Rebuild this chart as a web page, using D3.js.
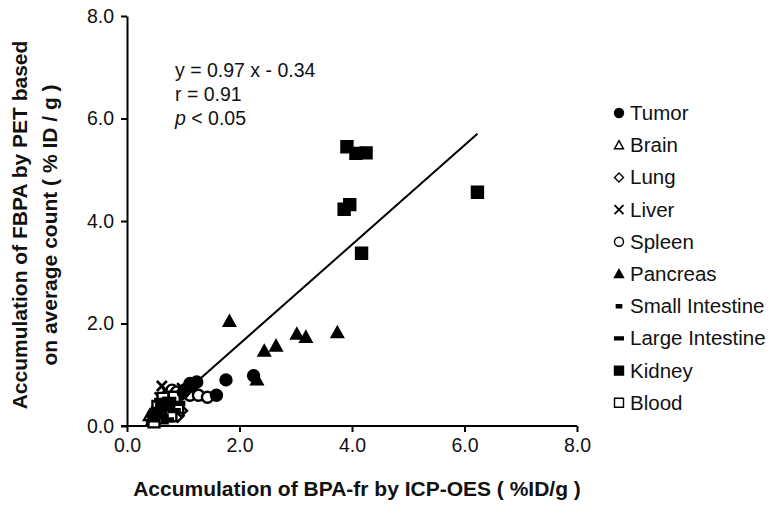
<!DOCTYPE html>
<html>
<head>
<meta charset="utf-8">
<script src="https://d3js.org/d3.v7.min.js"></script>
<style>
  body { margin: 0; background: #fff; }
  svg { font-family: "Liberation Sans", Arial, sans-serif; }
</style>
</head>
<body>
<svg id="chart" width="774" height="506"></svg>
<script>
// Données : [BPA-fr ICP-OES, FBPA PET]
const tumor = [[1.05, 0.72], [1.12, 0.83], [1.15, 0.78], [1.24, 0.86], [1.59, 0.60], [1.76, 0.90], [2.25, 0.98], [1.0, 0.66]];
const brain = [[0.40, 0.20], [0.46, 0.28], [0.52, 0.16], [0.58, 0.24], [0.44, 0.10], [0.50, 0.34], [0.62, 0.14]];
const lung = [[0.66, 0.42], [0.74, 0.32], [0.82, 0.28], [0.90, 0.20], [0.70, 0.52], [0.86, 0.40], [0.96, 0.30]];
const liver = [[0.62, 0.78], [0.98, 0.74], [0.80, 0.58], [0.72, 0.64], [0.88, 0.50], [0.68, 0.70], [0.58, 0.56]];
const spleen = [[0.80, 0.70], [0.95, 0.62], [1.12, 0.60], [1.27, 0.60], [1.43, 0.56], [0.88, 0.66]];
const pancreas = [[1.82, 2.04], [2.31, 0.90], [2.44, 1.46], [2.65, 1.56], [3.02, 1.79], [3.18, 1.73], [3.74, 1.82], [0.46, 0.18], [0.54, 0.26]];
const smallInt = [[0.50, 0.32], [0.58, 0.40], [0.64, 0.30], [0.70, 0.46], [0.78, 0.38], [0.56, 0.24], [0.66, 0.18]];
const largeInt = [[0.60, 0.50], [0.68, 0.36], [0.76, 0.52], [0.84, 0.30], [0.92, 0.44], [0.62, 0.20], [0.72, 0.12]];
const kidney = [[3.91, 5.45], [4.07, 5.32], [4.25, 5.33], [3.86, 4.23], [3.96, 4.32], [4.17, 3.37], [6.23, 4.56]];
const blood = [[0.55, 0.38], [0.64, 0.54], [0.74, 0.44], [0.90, 0.36], [0.84, 0.56], [0.70, 0.26], [0.78, 0.20], [0.48, 0.08]];

const legendNames = ["Tumor", "Brain", "Lung", "Liver", "Spleen", "Pancreas", "Small Intestine", "Large Intestine", "Kidney", "Blood"];
const xTicks = [0, 2, 4, 6, 8];
const yTicks = [0, 2, 4, 6, 8];
const slope = 0.97, intercept = -0.34;
const fitRange = [0.45, 6.23];

// Formes des marqueurs
function shape(kind, s) {
  const h = s / 2;
  switch (kind) {
    case "circle": return d3.symbol(d3.symbolCircle, Math.PI * h * h)();
    case "triangle": return `M0,${-h}L${h},${h * 0.8}L${-h},${h * 0.8}Z`;
    case "diamond": return `M0,${-h}L${h},0L0,${h}L${-h},0Z`;
    case "square": return `M${-h},${-h}H${h}V${h}H${-h}Z`;
    case "cross": return `M${-h},${-h}L${h},${h}M${h},${-h}L${-h},${h}`;
    case "dashS": return `M${-h * 0.55},${-1.6}H${h * 0.55}V1.6H${-h * 0.55}Z`;
    case "dashL": return `M${-h * 0.9},${-1.4}H${h * 0.9}V1.4H${-h * 0.9}Z`;
  }
}

const series = [
  { data: tumor, kind: "circle", fill: "#000", size: 11 },
  { data: brain, kind: "triangle", fill: "#fff", size: 11 },
  { data: lung, kind: "diamond", fill: "#fff", size: 12 },
  { data: liver, kind: "cross", fill: "none", size: 10 },
  { data: spleen, kind: "circle", fill: "#fff", size: 11 },
  { data: pancreas, kind: "triangle", fill: "#000", size: 11 },
  { data: smallInt, kind: "dashS", fill: "#000", size: 12 },
  { data: largeInt, kind: "dashL", fill: "#000", size: 12 },
  { data: kidney, kind: "square", fill: "#000", size: 11 },
  { data: blood, kind: "square", fill: "#fff", size: 11 }
];

const svg = d3.select("#chart");
const x = d3.scaleLinear().domain([0, 8]).range([127, 577]);
const y = d3.scaleLinear().domain([0, 8]).range([426, 16]);

// Axes
const xAxis = svg.append("g").attr("transform", `translate(0,${y(0)})`)
  .call(d3.axisBottom(x).tickValues(xTicks).tickFormat(d3.format(".1f")).tickSize(6).tickSizeOuter(0).tickPadding(6));
const yAxis = svg.append("g").attr("transform", `translate(${x(0)},0)`)
  .call(d3.axisLeft(y).tickValues(yTicks).tickFormat(d3.format(".1f")).tickSize(6).tickSizeOuter(0).tickPadding(7));
[xAxis, yAxis].forEach(a => {
  a.select(".domain").attr("stroke", "#000").attr("stroke-width", 2);
  a.selectAll(".tick line").attr("stroke", "#000").attr("stroke-width", 2);
  a.selectAll(".tick text").attr("font-size", 19.5).attr("fill", "#111").attr("font-family", "Liberation Sans, Arial, sans-serif");
});
// le domaine doit aller jusqu'au croisement des axes
xAxis.select(".domain").attr("d", `M${x(0) - 6},0H${x(8)}`);

// Titres des axes
svg.append("text").attr("x", 357).attr("y", 496).attr("text-anchor", "middle")
  .attr("font-size", 21).attr("font-weight", "bold").attr("fill", "#111")
  .text("Accumulation of BPA-fr by ICP-OES ( %ID/g )");
const yt = svg.append("text").attr("transform", "translate(0,225) rotate(-90)")
  .attr("text-anchor", "middle").attr("font-size", 21).attr("font-weight", "bold").attr("fill", "#111");
yt.append("tspan").attr("x", 0).attr("y", 27).text("Accumulation of FBPA by PET based");
yt.append("tspan").attr("x", 0).attr("y", 57).text("on average count ( % ID / g )");

// Droite de régression
svg.append("line")
  .attr("x1", x(fitRange[0])).attr("y1", y(slope * fitRange[0] + intercept))
  .attr("x2", x(fitRange[1])).attr("y2", y(slope * fitRange[1] + intercept))
  .attr("stroke", "#000").attr("stroke-width", 2);

// Points : les marqueurs vides d'abord, les pleins par-dessus (amas noir près de l'origine)
const drawOrder = series.filter(s => s.fill !== "#000").concat(series.filter(s => s.fill === "#000"));
drawOrder.forEach(s => {
  svg.append("g").selectAll("path").data(s.data).enter().append("path")
    .attr("transform", d => `translate(${x(d[0])},${y(d[1])})`)
    .attr("d", shape(s.kind, s.size))
    .attr("fill", s.fill)
    .attr("stroke", "#000")
    .attr("stroke-width", s.kind === "cross" ? 2.6 : 2.4);
});

// Équation
const eq = svg.append("g").attr("font-size", 19.5).attr("fill", "#111");
eq.append("text").attr("x", 175).attr("y", 77).text(`y = ${slope} x - ${Math.abs(intercept)}`);
eq.append("text").attr("x", 175).attr("y", 101).text("r = 0.91");
const pt = eq.append("text").attr("x", 175).attr("y", 125);
pt.append("tspan").attr("font-style", "italic").text("p");
pt.append("tspan").text(" < 0.05");

// Légende
const leg = svg.append("g").attr("transform", "translate(619,113)");
legendNames.forEach((name, i) => {
  const s = series[i];
  const row = leg.append("g").attr("transform", `translate(0,${i * 32.2})`);
  row.append("path").attr("d", shape(s.kind, s.kind.startsWith("dash") ? s.size * 0.8 : 9))
    .attr("fill", s.fill).attr("stroke", "#000")
    .attr("stroke-width", s.kind === "cross" ? 1.8 : 1.4);
  row.append("text").attr("x", 11).attr("y", 7).attr("font-size", 20.5).attr("fill", "#111").text(name);
});
</script>
</body>
</html>
